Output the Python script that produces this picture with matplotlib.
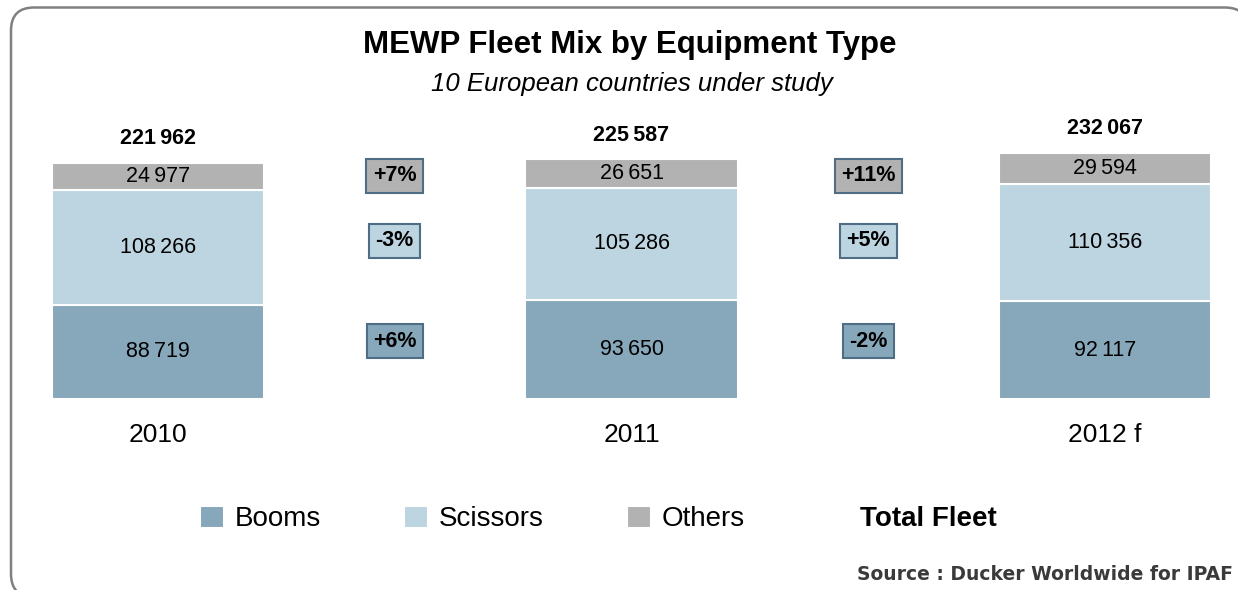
import matplotlib.pyplot as plt
import numpy as np
from matplotlib.patches import FancyBboxPatch

plt.rcParams['font.family'] = ['Liberation Sans', 'DejaVu Sans']

# data
years = ['2010', '2011', '2012 f']
booms = [88719, 93650, 92117]
scissors = [108266, 105286, 110356]
others = [24977, 26651, 29594]

series_names = ['Booms', 'Scissors', 'Others']
colors = ['#87A7BA', '#BDD5E1', '#B2B2B2']

W, H = 1238, 590
PX_PER_K = 1.062        # pixels per 1000 units
YMAX = 260000
BAR_BOTTOM = 399        # px from top
X0, STEP = 158, 473.5   # px centre of first bar, px between bars


def fmt(v):
    return f"{v:,}".replace(",", "\u2009")


fig = plt.figure(figsize=(W / 100, H / 100), dpi=100)

# background layer in pixel coordinates (y down)
bg = fig.add_axes([0, 0, 1, 1])
bg.set_xlim(0, W)
bg.set_ylim(H, 0)
bg.axis('off')
frame = FancyBboxPatch((11, 7.5), 1237, 589.5,
                       boxstyle='round,pad=0,rounding_size=23',
                       fc='white', ec='#808080', lw=1.8)
bg.add_patch(frame)

bg.text(630, 45, 'MEWP Fleet Mix by Equipment Type', ha='center', va='center',
        fontsize=22.5, fontweight='bold')
bg.text(632, 84, '10 European countries under study', ha='center', va='center',
        fontsize=18.5, style='italic')
bg.text(860, 519, 'Total Fleet', ha='left', va='center',
        fontsize=20, fontweight='bold')
bg.text(1233, 575, 'Source : Ducker Worldwide for IPAF', ha='right', va='center',
        fontsize=13.5, fontweight='bold', color='#3a3a3a', family='DejaVu Sans')

# bar layer
ax_h = YMAX / 1000 * PX_PER_K
ax = fig.add_axes([0, (H - BAR_BOTTOM) / H, 1, ax_h / H])
ax.patch.set_alpha(0)
ax.set_ylim(0, YMAX)
ax.set_xlim(-X0 / STEP, (W - X0) / STEP)
ax.axis('off')

x = np.arange(len(years))
data = [np.array(booms), np.array(scissors), np.array(others)]
bottom = np.zeros(len(years))
containers = []
for vals, name, col in zip(data, series_names, colors):
    bc = ax.bar(x, vals, width=0.448, bottom=bottom, color=col,
                edgecolor='white', linewidth=1.5, label=name)
    ax.bar_label(bc, labels=[fmt(v) for v in vals], label_type='center',
                 fontsize=15.5)
    containers.append(bc)
    bottom = bottom + vals

totals = bottom
for xi, t in zip(x, totals):
    ax.annotate(fmt(int(t)), xy=(xi, t), xytext=(0, 17.5), textcoords='offset points',
                ha='center', va='center', fontsize=15.5, fontweight='bold')

for xi, yr in zip(x, years):
    ax.annotate(yr, xy=(xi, 0), xytext=(0, -26), textcoords='offset points',
                ha='center', va='center', fontsize=19)

# year-on-year change boxes
box_y = [54600, 148800, 210000]
for vals, col, by in zip(data, colors, box_y):
    chg = vals[1:] / vals[:-1] - 1
    for i, c in enumerate(chg):
        ax.text(i + 0.5, by, f"{c:+.0%}", ha='center', va='center',
                fontsize=15.5, fontweight='bold',
                bbox=dict(boxstyle='square,pad=0.3', fc=col, ec='#4F6D85', lw=1.5))

fig.legend(handles=containers, labels=series_names, loc='center left',
           bbox_to_anchor=(200 / W, 1 - 519 / H), ncol=3, frameon=False,
           fontsize=20, handlelength=0.85, handleheight=0.85,
           handletextpad=0.4, columnspacing=3.0, borderpad=0, borderaxespad=0)

fig.savefig('out.png', dpi=100)
